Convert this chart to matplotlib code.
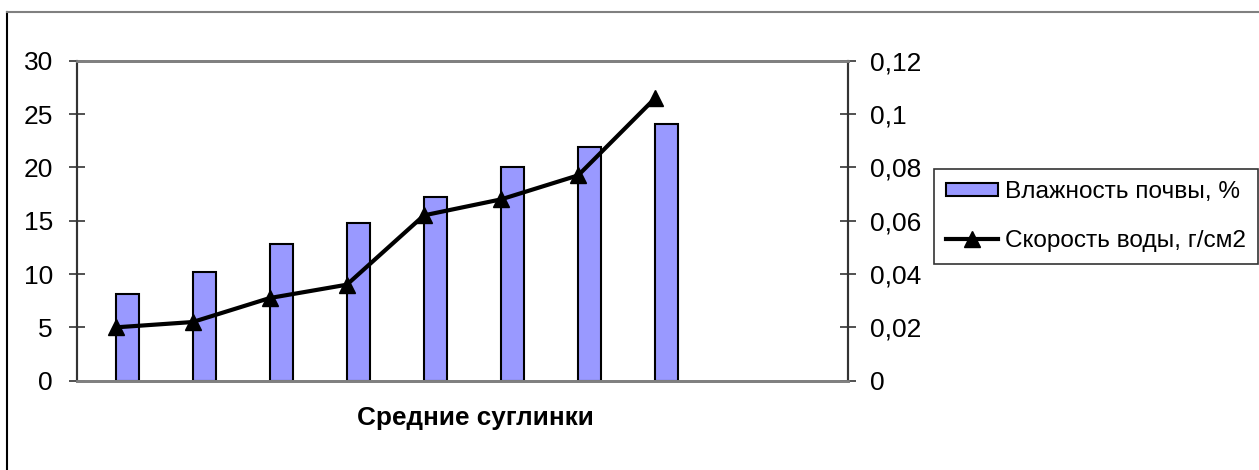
import matplotlib
matplotlib.use("Agg")
import matplotlib.pyplot as plt
from matplotlib.lines import Line2D
from matplotlib.ticker import FixedLocator, FuncFormatter

plt.rcParams['font.family'] = ['Liberation Sans', 'DejaVu Sans']

# Data
samples = ["1", "2", "3", "4", "5", "6", "7", "8"]
moisture = [8.1, 10.2, 12.8, 14.8, 17.2, 20.0, 21.9, 24.1]          # Влажность почвы, %
water_rate = [0.020, 0.022, 0.031, 0.036, 0.062, 0.068, 0.077, 0.106]  # Скорость воды, г/см2
n_slots = 10
left_ticks = [0, 5, 10, 15, 20, 25, 30]
right_ticks = [0, 0.02, 0.04, 0.06, 0.08, 0.10, 0.12]

W, H = 1259, 470
fig = plt.figure(figsize=(W / 100, H / 100), dpi=100)
fig.patch.set_facecolor("white")

ax = fig.add_axes([77 / W, 1 - 380.7 / H, (848 - 77) / W, (380.7 - 60.7) / H])
ax2 = ax.twinx()

pos = [i + 0.5 for i in range(len(samples))]
bars = ax.bar(pos, moisture, width=0.3, align="edge", color="#9999FF",
              edgecolor="black", linewidth=1.5, label="Влажность почвы, %", zorder=2)
line, = ax2.plot(pos, water_rate, color="black", linewidth=3, marker="^",
                 markersize=11, label="Скорость воды, г/см2", zorder=3)

ax.set_xlim(0, n_slots)
ax.set_ylim(0, 30)
ax2.set_ylim(0, 0.12)
ax.set_xticks([])

ax.yaxis.set_major_locator(FixedLocator(left_ticks))
ax2.yaxis.set_major_locator(FixedLocator(right_ticks))


def comma_fmt(v, _):
    s = f"{v:.2f}".rstrip("0").rstrip(".")
    return s.replace(".", ",")


ax2.yaxis.set_major_formatter(FuncFormatter(comma_fmt))

for a in (ax, ax2):
    a.tick_params(axis="y", direction="inout", length=11.5, width=1.2,
                  labelsize=19, color="#333333")
ax.tick_params(axis="y", pad=11.5)
ax2.tick_params(axis="y", pad=10)

for a in (ax, ax2):
    a.spines["top"].set_color("#808080")
    a.spines["bottom"].set_color("#808080")
    a.spines["top"].set_linewidth(2)
    a.spines["bottom"].set_linewidth(2)
    a.spines["left"].set_color("#333333")
    a.spines["right"].set_color("#333333")
    a.spines["left"].set_linewidth(1.5)
    a.spines["right"].set_linewidth(1.5)

fig.text(475 / W, 1 - 418 / H, "Средние суглинки", ha="center", va="center",
         fontsize=18.8, fontweight="bold")

leg = fig.legend(handles=[bars, line], loc="upper left",
                 bbox_to_anchor=(934 / W, 1 - 169 / H), fontsize=17.6,
                 frameon=True, fancybox=False, edgecolor="black",
                 handlelength=2.1, handleheight=0.45, handletextpad=0.29,
                 borderpad=0.5, labelspacing=1.08, borderaxespad=0)
leg.get_frame().set_linewidth(1.2)

# Outer chart frame
fig.add_artist(Line2D([6.5 / W, 6.5 / W], [0, 1 - 11.5 / H], transform=fig.transFigure,
                      color="black", linewidth=1.5))
fig.add_artist(Line2D([6.5 / W, 1], [1 - 11.5 / H, 1 - 11.5 / H], transform=fig.transFigure,
                      color="#808080", linewidth=1.5))

fig.savefig("out.png", dpi=100)
